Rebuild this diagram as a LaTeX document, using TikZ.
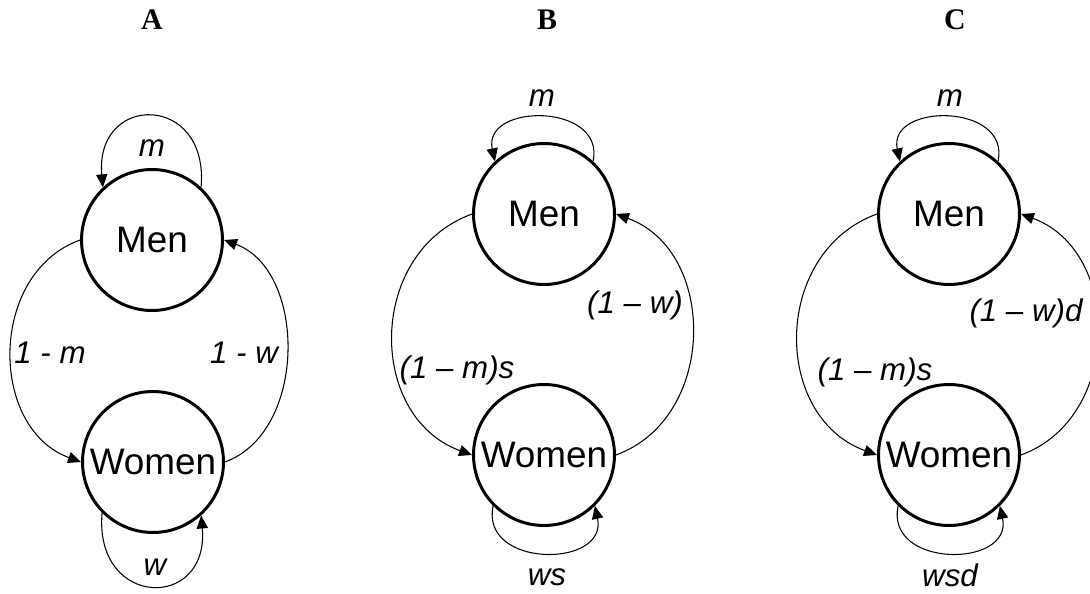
\documentclass[tikz,border=0pt]{standalone}
\usepackage{fontspec}
\setmainfont{Liberation Sans}
\newfontfamily\serifhead{Liberation Serif}
\usetikzlibrary{arrows.meta}

\begin{document}
\begin{tikzpicture}[x=0.02cm,y=0.02cm,
 sex/.style={circle,draw,line width=1.7pt,minimum size=2.82cm,inner sep=0pt,font=\fontsize{21}{25}\selectfont},
 ar/.style={-{Triangle[length=7.4pt,width=6.4pt]},line width=.6pt},
 lab/.style={font=\itshape\fontsize{17.8}{21}\selectfont,inner sep=1pt},
 panel/.style={font=\serifhead\bfseries\fontsize{17}{20}\selectfont}]
\useasboundingbox (0,0) rectangle (1090,593);
% (A) plain transitions
\node[panel] (titA) at (152,573) {A};
\node[sex] (menA) at (152,353) {Men};
\node[sex] (womA) at (153,131) {Women};
\draw[ar] (menA.47) .. controls +(85:95) and +(95:95) .. (menA.133);
\draw[ar] (womA.-135) .. controls +(-95:96) and +(-85:96) .. (womA.-48);
\draw[ar] (menA.west) .. controls +(200:98) and +(160:98) .. (womA.west);
\draw[ar] (womA.east) .. controls +(20:88) and +(-20:88) .. (menA.east);
\node[lab] (mA) at (152,445) {m};
\node[lab] (wA) at (155,26) {w};
\node[lab] (omA) at (50,240) {1 - m};
\node[lab] (owA) at (244,240) {1 - w};
% (B) with s
\node[panel] (titB) at (547,573) {B};
\node[sex] (menB) at (544,379) {Men};
\node[sex] (womB) at (544,138) {Women};
\draw[ar] (menB.47) .. controls +(78:60) and +(102:60) .. (menB.133);
\draw[ar] (womB.-135) .. controls +(-102:64) and +(-78:64) .. (womB.-45);
\draw[ar] (menB.west) .. controls +(200:112) and +(160:112) .. (womB.west);
\draw[ar] (womB.east) .. controls +(20:108) and +(-20:108) .. (menB.east);
\node[lab] (mB) at (542,495) {m};
\node[lab] (wB) at (547,16) {ws};
\node[lab] (omB) at (457,223) {(1 – m)s};
\node[lab] (owB) at (635,288) {(1 – w)};
% (C) with s and d
\node[panel] (titC) at (955,573) {C};
\node[sex] (menC) at (949,379) {Men};
\node[sex] (womC) at (949,138) {Women};
\draw[ar] (menC.47) .. controls +(78:60) and +(102:60) .. (menC.133);
\draw[ar] (womC.-135) .. controls +(-102:64) and +(-78:64) .. (womC.-45);
\draw[ar] (menC.west) .. controls +(200:112) and +(160:112) .. (womC.west);
\draw[ar] (womC.east) .. controls +(20:108) and +(-20:108) .. (menC.east);
\node[lab] (mC) at (950,495) {m};
\node[lab] (wC) at (950,18) {wsd};
\node[lab] (omC) at (875,221) {(1 – m)s};
\node[lab] (owC) at (1026,280) {(1 – w)d};
\end{tikzpicture}
\end{document}
